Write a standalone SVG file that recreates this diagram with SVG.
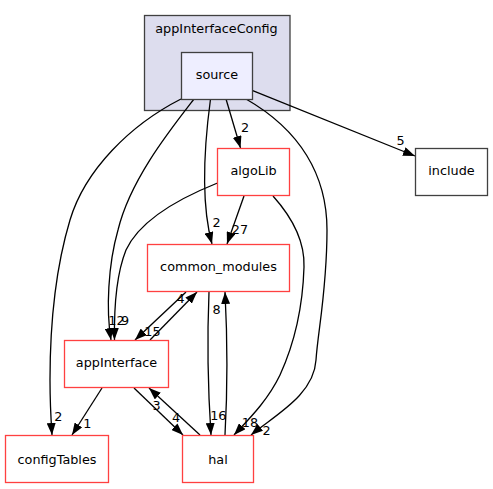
<svg xmlns="http://www.w3.org/2000/svg" width="493" height="489" viewBox="0 0 493 489">
<defs>
<style>
text{font-family:"DejaVu Sans",sans-serif;font-size:12.8px;fill:#000;text-anchor:middle}
.node rect{stroke-width:1.3}
.red rect{fill:#fff;stroke:#ff4040}
.blk rect{fill:#fff;stroke:#404040}
.edges path{fill:none;stroke:#000;stroke-width:1.3;marker-end:url(#ah)}
</style>
<marker id="ah" viewBox="0 0 12 9" refX="12" refY="4.5" markerWidth="12" markerHeight="9" orient="auto" markerUnits="userSpaceOnUse">
<path d="M0,0 L12,4.5 L0,9 z" fill="#000"/>
</marker>
</defs>
<rect width="493" height="489" fill="#fff"/>
<g id="cluster_appInterfaceConfig">
<rect x="144.5" y="15.5" width="145.5" height="95" fill="#ddddee" stroke="#404040" stroke-width="1.3"/>
<text x="216.5" y="32.5">appInterfaceConfig</text>
</g>
<g class="edges" id="edges">
<path d="M252.7,90.7 L415,156"/>
<path d="M226,99 L240.5,148"/>
<path d="M210.5,99 C205,140 200,200 212,244"/>
<path d="M246,99 C300,130 327,175 327,230 C327,290 318,330 316,360 C314,395 275,415 251,435"/>
<path d="M273,196 C290,215 305,240 304,267 C303,300 296,340 280,375 C268,400 250,418 234,435"/>
<path d="M181,99 C130,125 85,170 70,220 C55,270 50,330 50,380 C50,405 51,420 52,435"/>
<path d="M194,99 C170,130 130,180 118,230 C108,265 106,310 111,340"/>
<path d="M217.5,183 C180,198 140,220 126,250 C116,275 114,310 114.5,340"/>
<path d="M244,196 L227,244"/>
<path d="M186,292 L135,340"/>
<path d="M150,340 L197,292"/>
<path d="M209,292 C207,340 208,390 211,435"/>
<path d="M225,435 C227.5,390 227.5,340 225,292"/>
<path d="M134,388 L183,435"/>
<path d="M200,435 L149,388"/>
<path d="M102,388 L72,435"/>
</g>
<g id="edge_labels">
<text x="400.7" y="145">5</text>
<text x="245" y="131.5">2</text>
<text x="216.7" y="227">2</text>
<text x="240" y="233.5">27</text>
<text x="116.5" y="325">12</text>
<text x="125" y="325">9</text>
<text x="180.5" y="303">4</text>
<text x="152.5" y="336">15</text>
<text x="216.7" y="314">8</text>
<text x="218.3" y="419.5">16</text>
<text x="250" y="427">18</text>
<text x="266.7" y="434.5">2</text>
<text x="156.7" y="409.5">3</text>
<text x="176" y="422">4</text>
<text x="87.3" y="428">1</text>
<text x="58.3" y="420.5">2</text>
</g>
<g id="node_source" class="node">
<rect x="181.5" y="52.5" width="71" height="47" fill="#eeeeff" stroke="#404040"/>
<text x="217" y="79">source</text>
</g>
<g id="node_include" class="node blk">
<rect x="415.5" y="148.5" width="72" height="47"/>
<text x="451.5" y="174.5">include</text>
</g>
<g id="node_algoLib" class="node red">
<rect x="217.5" y="148.5" width="72" height="47"/>
<text x="253.5" y="174.5">algoLib</text>
</g>
<g id="node_common_modules" class="node red">
<rect x="147.5" y="244.5" width="142" height="47"/>
<text x="218.5" y="271">common_modules</text>
</g>
<g id="node_appInterface" class="node red">
<rect x="64.5" y="340.5" width="104" height="47"/>
<text x="116.5" y="367">appInterface</text>
</g>
<g id="node_configTables" class="node red">
<rect x="5.5" y="435.5" width="103" height="47"/>
<text x="57" y="463.5">configTables</text>
</g>
<g id="node_hal" class="node red">
<rect x="182.5" y="435.5" width="71" height="47"/>
<text x="218" y="463.5">hal</text>
</g>
</svg>
